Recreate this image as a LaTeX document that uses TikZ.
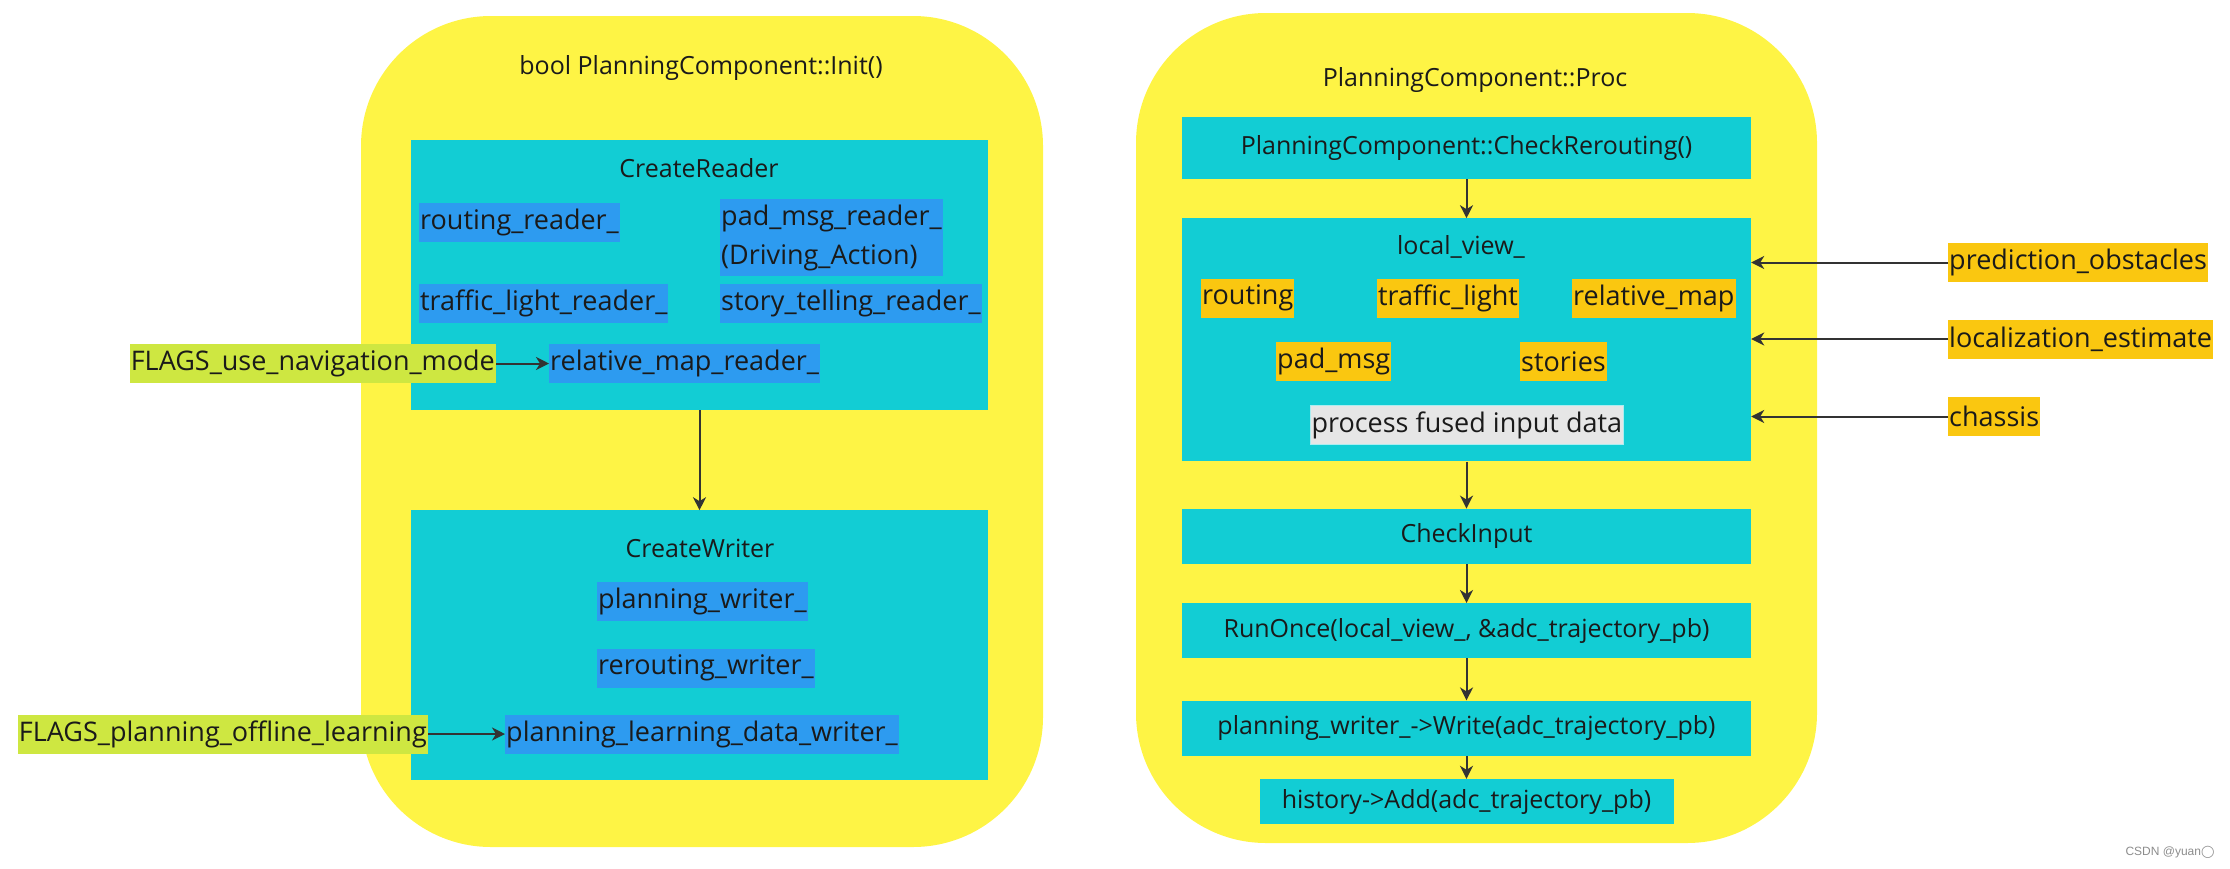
\documentclass[tikz,border=0pt]{standalone}
\usepackage{fontspec}
\setmainfont{Open Sans}
\newfontfamily\markfont{Liberation Sans}
\newfontfamily\symfont{DejaVu Sans}
\usepackage{tikz}
\usetikzlibrary{arrows.meta, positioning}
\definecolor{boxyellow}{HTML}{FEF445}
\definecolor{boxcyan}{HTML}{12CDD4}
\definecolor{boxblue}{HTML}{2D9BF0}
\definecolor{flaggreen}{HTML}{CEE741}
\definecolor{inputorange}{HTML}{FAC710}
\definecolor{fusedgrey}{HTML}{E6E6E6}
\definecolor{textdark}{HTML}{1A1A1A}
\definecolor{linkdark}{HTML}{333333}

\begin{document}
\begin{tikzpicture}[
  x=1pt, y=-1pt,
  font=\fontsize{25}{36}\selectfont,
  text=textdark,
  groupbox/.style={rectangle, fill=boxyellow, rounded corners=130pt, inner sep=0pt},
  stagebox/.style={rectangle, fill=boxcyan, inner sep=0pt, minimum width=569pt},
  fieldbox/.style={rectangle, fill=boxblue, inner xsep=1pt, inner ysep=0pt,
                   minimum height=39pt, anchor=west, font=\fontsize{27}{39}\selectfont},
  flagbox/.style={fieldbox, fill=flaggreen},
  inputbox/.style={fieldbox, fill=inputorange},
  link/.style={draw=linkdark, line width=2pt,
               -{Stealth[length=13pt, width=13pt, inset=4pt]}}
]
\useasboundingbox (0,0) rectangle (2230,868);

% Init()
\node[groupbox, minimum width=682pt, minimum height=831pt] (init) at (702,431.5) {};
\node (initTitle) at (701,68) {bool PlanningComponent::Init()};

\node[stagebox, minimum width=577pt, minimum height=270pt] (reader) at (699.5,275) {};
\node (readerTitle) at (699,168) {CreateReader};
\node[fieldbox] (routingReader) at (419,222.5) {routing\_reader\_};
\node[fieldbox, align=left, minimum height=77pt] (padReader) at (720,237.5)
  {pad\_msg\_reader\_\\(Driving\_Action)};
\node[fieldbox] (lightReader) at (419,303) {traffic\_light\_reader\_};
\node[fieldbox] (storyReader) at (720,303) {story\_telling\_reader\_};
\node[fieldbox] (mapReader) at (549,363.5) {relative\_map\_reader\_};
\node[flagbox, anchor=east] (navFlag) at (496,363.5) {FLAGS\_use\_navigation\_mode};

\node[stagebox, minimum width=577pt, minimum height=270pt, below=100pt of reader] (writer) {};
\node (writerTitle) at (700,548) {CreateWriter};
\node[fieldbox] (planWriter) at (597,601) {planning\_writer\_};
\node[fieldbox] (rerouteWriter) at (597,668) {rerouting\_writer\_};
\node[fieldbox] (learnWriter) at (505,734) {planning\_learning\_data\_writer\_};
\node[flagbox, anchor=east] (learnFlag) at (428,734) {FLAGS\_planning\_offline\_learning};

\draw[link] (navFlag) -- (mapReader);
\draw[link] (reader) -- (writer);
\draw[link] (learnFlag) -- (learnWriter);

% Proc
\node[groupbox, minimum width=681pt, minimum height=830pt] (proc) at (1476.5,428) {};
\node (procTitle) at (1475,80) {PlanningComponent::Proc};

\node[stagebox, minimum height=62pt] (reroute) at (1466.5,148) {PlanningComponent::CheckRerouting()};
\node[stagebox, minimum height=243pt, below=39pt of reroute] (local) {};
\node (localTitle) at (1461,247) {local\_view\_};
\node[inputbox] (routing) at (1201,298) {routing};
\node[inputbox] (light) at (1377,298) {traffic\_light};
\node[inputbox] (relMap) at (1572,298) {relative\_map};
\node[inputbox] (padMsg) at (1276,361.5) {pad\_msg};
\node[inputbox] (stories) at (1520,361.5) {stories};
\node[fieldbox, fill=fusedgrey, draw=boxcyan!35!white, line width=1pt] (fused) at (1310,425)
  {process fused input data};

\node[stagebox, minimum height=55pt, below=47pt of local] (checkInput) {CheckInput};
\node[stagebox, minimum height=55pt, below=39pt of checkInput] (runOnce)
  {RunOnce(local\_view\_, \&adc\_trajectory\_pb)};
\node[stagebox, minimum height=55pt, below=42pt of runOnce] (write)
  {planning\_writer\_->Write(adc\_trajectory\_pb)};
\node[stagebox, minimum width=414pt, minimum height=45pt, below=23pt of write] (history)
  {history->Add(adc\_trajectory\_pb)};

\node[inputbox] (obstacles) at (1948,262.5) {prediction\_obstacles};
\node[inputbox] (localization) at (1948,339) {localization\_estimate};
\node[inputbox] (chassis) at (1948,416.5) {chassis};

\draw[link] (reroute) -- (local);
\draw[link] (local) -- (checkInput);
\draw[link] (checkInput) -- (runOnce);
\draw[link] (runOnce) -- (write);
\draw[link] (write) -- (history);
\foreach \src in {obstacles, localization, chassis}
  \draw[link] (\src.west) -- (\src.west -| local.east);

\node[font=\fontsize{12}{14}\selectfont\markfont, text=black!45] (mark) at (2170,852)
  {CSDN @yuan{\symfont ◯}};
\end{tikzpicture}
\end{document}
